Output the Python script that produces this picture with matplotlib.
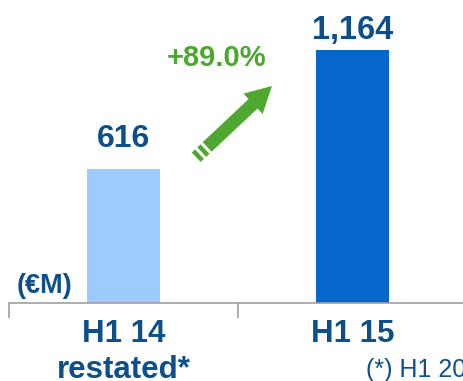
import matplotlib
matplotlib.use("Agg")
import matplotlib.pyplot as plt
from matplotlib.patches import Polygon
import numpy as np

plt.rcParams['font.family'] = ['Liberation Sans', 'DejaVu Sans']

categories = ['H1 14', 'H1 15']
subtitles = ['restated*', '']
values = [616, 1164]
value_labels = ['616', '1,164']
bar_colors = ['#9ccbff', '#0566cb']
growth = '+89.0%'

navy = '#0d4f8b'
green = '#4ea72e'

W, H = 463, 381
fig = plt.figure(figsize=(W / 100, H / 100), dpi=100)
ax = fig.add_axes([9 / W, 78 / H, 458 / W, 303 / H])

x = np.arange(len(values))
ax.bar(x, values, width=0.315, color=bar_colors)
ax.set_xlim(-0.5, 1.5)
ax.set_ylim(0, 1393)

for xi, v, lab, fs, pad in zip(x, values, value_labels, [23, 23.5], [22, 11]):
    ax.annotate(lab, (xi, v), xytext=(0, pad), textcoords='offset pixels',
                ha='center', va='baseline', fontsize=fs, fontweight='bold', color=navy)

for s in ['top', 'right', 'left']:
    ax.spines[s].set_visible(False)
ax.spines['bottom'].set_color('#a0a0a0')
ax.spines['bottom'].set_linewidth(1.2)
ax.set_yticks([])
ax.set_xticks([-0.5, 0.5, 1.5])
ax.set_xticklabels(['', '', ''])
ax.tick_params(axis='x', length=11, width=1.2, color='#a0a0a0')
tr = ax.get_xaxis_transform()
for xi, c, s in zip(x, categories, subtitles):
    ax.text(xi, -39 / 303, c, transform=tr, ha='center', va='baseline',
            fontsize=22.5, fontweight='bold', color=navy)
    ax.text(xi, -75 / 303, s, transform=tr, ha='center', va='baseline',
            fontsize=22.5, fontweight='bold', color=navy)

# overlay in pixel coordinates for decorations
ov = fig.add_axes([0, 0, 1, 1])
ov.set_xlim(0, W)
ov.set_ylim(H, 0)
ov.axis('off')
ov.patch.set_alpha(0)

ov.text(217, 66, growth, ha='center', va='baseline', fontsize=21, fontweight='bold', color=green)
ov.text(17, 293, '(\u20acM)', ha='left', va='baseline', fontsize=19.5, fontweight='bold', color=navy)
ov.text(366, 377, '(*) H1 2014 restated', ha='left', va='baseline', fontsize=18, color=navy)

# arrow
tip = np.array([272.0, 86.0])
d = np.array([1.0, -0.94]); d /= np.linalg.norm(d)
n = np.array([-d[1], d[0]])
head_len, head_w, shaft_w = 26, 14, 6.5
base = tip - d * head_len
ov.add_patch(Polygon([tip, base + n * head_w, base - n * head_w], color=green, lw=0))
for a, b in [(-1, 63), (66, 70.5), (73.5, 78)]:
    p0 = base - d * a
    p1 = base - d * b
    ov.add_patch(Polygon([p0 + n * shaft_w, p1 + n * shaft_w, p1 - n * shaft_w, p0 - n * shaft_w],
                         color=green, lw=0))

fig.savefig('out.png', dpi=100)
